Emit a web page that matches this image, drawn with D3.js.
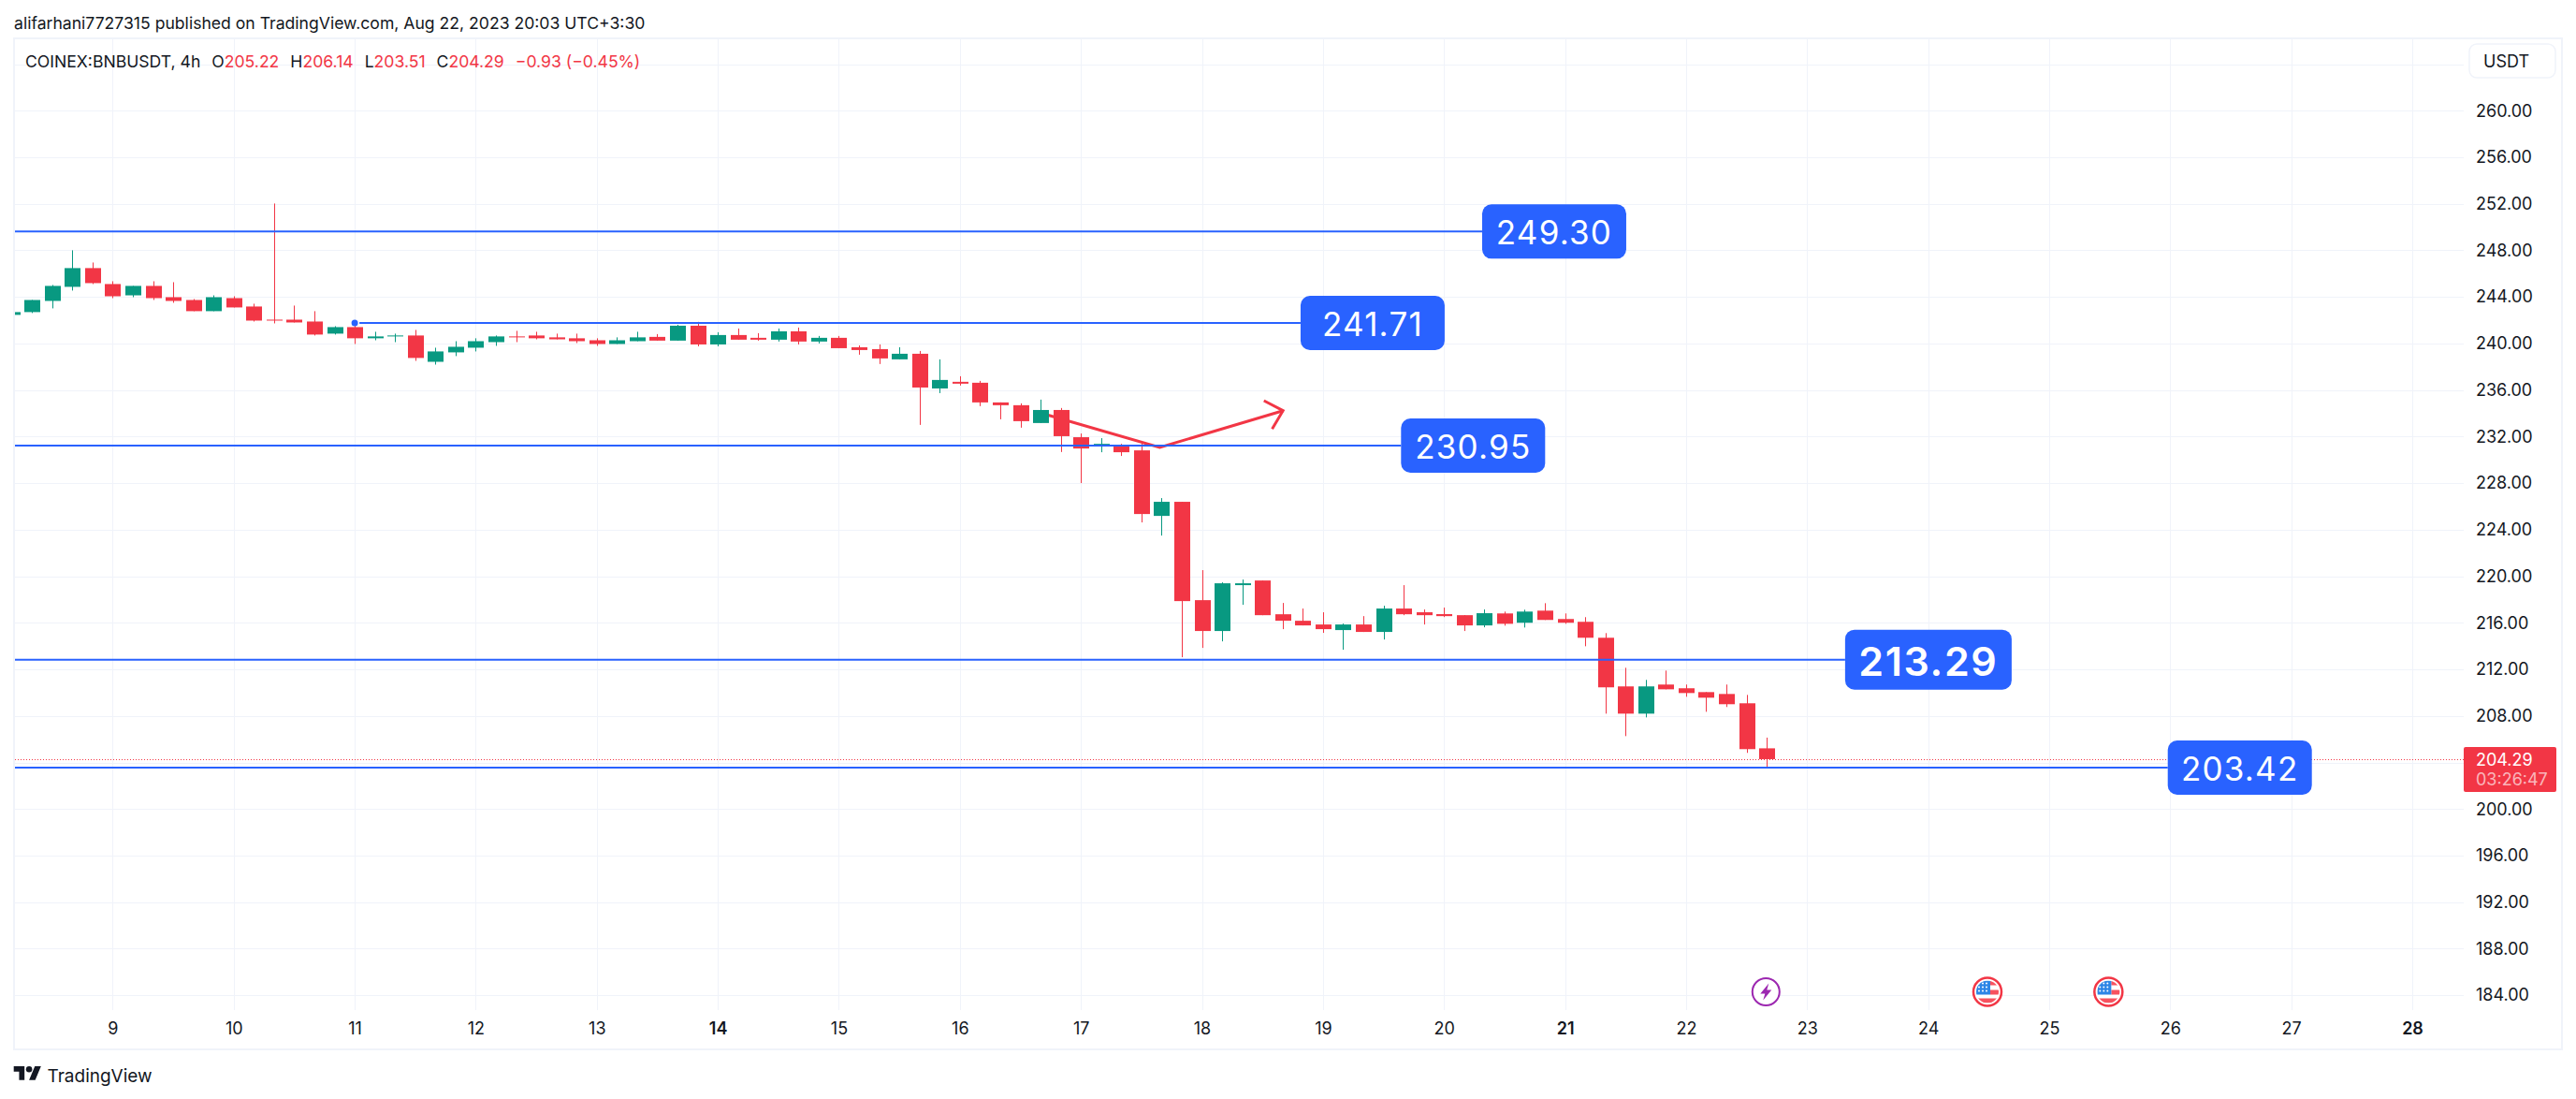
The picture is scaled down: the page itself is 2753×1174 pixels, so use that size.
<!DOCTYPE html>
<html>
<head>
<meta charset="utf-8">
<script src="https://cdn.jsdelivr.net/npm/d3@7"></script>
<style>
  html, body { margin: 0; padding: 0; background: #fff; }
  svg { display: block; font-family: Inter, "Noto Sans", sans-serif; }
</style>
</head>
<body>
<svg id="chart" width="2753" height="1174"></svg>
<script>
const opens = [242.46,242.70,243.66,244.87,246.48,245.11,244.14,244.95,243.98,243.74,242.78,243.90,243.18,242.05,242.05,241.89,240.85,241.41,240.45,240.61,240.69,238.43,239.24,239.64,240.12,240.61,240.69,240.53,240.45,240.28,239.96,240.20,240.57,240.25,241.53,239.92,240.73,240.49,240.33,241.05,240.17,240.49,239.68,239.52,238.64,239.12,236.14,236.71,236.63,234.94,234.70,233.17,234.29,231.95,231.22,231.30,230.82,225.19,226.40,217.95,215.30,219.24,219.64,216.74,216.18,215.86,215.38,215.86,215.22,217.23,216.91,216.75,216.66,215.78,216.81,216.01,217.05,216.33,216.09,214.72,210.54,208.20,210.70,210.38,210.05,209.89,209.09,205.22];
const highs = [242.70,243.74,245.03,248.01,246.96,245.35,244.95,245.35,245.27,243.82,244.14,244.06,243.42,252.03,243.26,242.78,241.49,241.97,241.01,240.85,241.17,239.64,240.20,240.45,240.69,241.09,241.01,240.85,240.85,240.45,240.53,241.01,240.81,241.61,241.86,240.97,241.29,240.89,241.29,241.37,240.65,240.65,239.84,239.92,239.68,239.36,238.64,237.19,236.79,234.94,234.86,235.18,234.46,232.27,231.87,231.38,231.46,226.72,226.40,220.53,219.48,219.72,219.64,217.71,217.23,216.91,215.94,216.58,217.47,219.24,217.15,217.31,216.66,217.15,216.97,217.13,217.69,216.81,216.49,215.12,212.14,211.10,211.90,210.70,210.05,210.70,209.81,206.14];
const lows = [242.46,242.62,243.02,244.55,245.11,243.90,243.98,243.74,243.50,242.78,242.78,243.10,241.89,241.73,241.81,240.69,240.77,239.96,240.28,240.12,238.51,238.19,238.92,239.32,239.80,240.12,240.36,240.36,240.04,239.80,239.96,240.20,240.25,240.25,239.76,239.76,240.33,240.25,240.17,239.92,240.01,239.60,239.04,238.24,238.64,233.01,235.74,236.39,234.62,233.49,232.77,233.17,230.68,228.01,230.66,230.34,224.63,223.50,213.05,213.85,214.41,217.55,216.66,215.46,215.78,215.14,213.69,215.22,214.57,216.66,215.86,216.50,215.30,215.62,215.76,215.60,216.25,215.92,213.99,208.20,206.27,207.88,210.29,209.65,208.36,208.77,204.83,203.51];
const closes = [242.70,243.74,244.95,246.48,245.19,244.06,244.95,243.90,243.66,242.78,243.98,243.10,241.97,241.97,241.81,240.77,241.41,240.45,240.61,240.69,238.76,239.32,239.72,240.20,240.61,240.53,240.45,240.36,240.20,239.96,240.28,240.53,240.25,241.53,239.92,240.73,240.33,240.33,241.05,240.17,240.49,239.60,239.44,238.72,239.12,236.22,236.87,236.55,234.94,234.70,233.33,234.29,232.04,230.98,231.38,230.66,225.35,226.40,217.87,215.30,219.40,219.40,216.66,216.18,215.78,215.46,215.86,215.22,217.23,216.74,216.66,216.58,215.78,216.83,215.92,216.97,216.25,216.01,214.72,210.46,208.20,210.54,210.29,209.97,209.57,209.01,205.15,204.29];

const firstBarDay = 8 + 1 / 6;
const barsPerDay = 6;

const priceTicks = [260,256,252,248,244,240,236,232,228,224,220,216,212,208,204,200,196,192,188,184];
const gridPrices = [264].concat(priceTicks);
const dayTicks = [9,10,11,12,13,14,15,16,17,18,19,20,21,22,23,24,25,26,27,28];
const boldDays = [14,21,28];

// line price differs a little from the typed label, both
const levelLabels = ["249.30","241.71","230.95","213.29","203.42"];
const levelPrices = [249.62,241.77,231.23,212.84,203.56];
const levelStartDays = [null,11,null,null,null];
const levelEndDays = [20.315,18.815,19.645,23.314,25.98];
const levelBold = [false,false,false,true,false];

const arrowDays = [16.717,17.651,18.670];
const arrowPrices = [233.88,231.07,234.23];
const arrowHeadDays = [18.512,18.670,18.58];
const arrowHeadPrices = [235.09,234.23,232.65];

const flagDays = [24.49,25.49];
const boltDays = [22.66];

const legendOhlc = [["O","205.22"],["H","206.14"],["L","203.51"],["C","204.29"]];
const lastPrice = 204.29;
const countdown = "03:26:47";

const margin = {left: 16, top: 42, right: 2633, bottom: 1079};
const red = "#f23645", green = "#089981", blue = "#2962ff", ink = "#131722", gridColor = "#f0f3fa";

const svg = d3.select("#chart");
const x = d3.scaleLinear().domain([9, 28]).range([120.4, 2578]);
const y = d3.scaleLinear().domain([260, 200]).range([118.3, 864.3]);
const barX = i => x(firstBarDay + i / barsPerDay);

svg.append("defs").append("clipPath").attr("id", "pane")
  .append("rect")
    .attr("x", margin.left)
    .attr("y", margin.top)
    .attr("width", margin.right - margin.left)
    .attr("height", margin.bottom - margin.top);

// frame
svg.append("rect")
  .attr("x", 15).attr("y", 41)
  .attr("width", 2723).attr("height", 1080)
  .attr("fill", "none")
  .attr("stroke", gridColor)
  .attr("stroke-width", 2);

// grid
svg.append("g").selectAll("line")
  .data(gridPrices)
  .join("line")
    .attr("x1", margin.left).attr("x2", margin.right)
    .attr("y1", d => Math.round(y(d)) + 0.5).attr("y2", d => Math.round(y(d)) + 0.5)
    .attr("stroke", gridColor);

svg.append("g").selectAll("line")
  .data(dayTicks)
  .join("line")
    .attr("x1", d => Math.round(x(d)) + 0.5).attr("x2", d => Math.round(x(d)) + 0.5)
    .attr("y1", margin.top).attr("y2", margin.bottom)
    .attr("stroke", gridColor);

// axes
const yAxis = svg.append("g")
  .attr("transform", `translate(${margin.right},0)`)
  .call(d3.axisRight(y).tickValues(priceTicks).tickSize(0).tickPadding(13).tickFormat(d3.format(".2f")));
yAxis.select(".domain").remove();
yAxis.selectAll("text")
  .attr("fill", ink)
  .style("font-size", "18px")
  .style("font-family", "Inter, sans-serif");

const xAxis = svg.append("g")
  .attr("transform", `translate(0,${margin.bottom})`)
  .call(d3.axisBottom(x).tickValues(dayTicks).tickSize(0).tickPadding(13).tickFormat(d3.format("d")));
xAxis.select(".domain").remove();
xAxis.selectAll("text")
  .attr("fill", ink)
  .style("font-size", "18px")
  .style("font-family", "Inter, sans-serif")
  .style("font-weight", d => boldDays.includes(d) ? 600 : 400);

const pane = svg.append("g").attr("clip-path", "url(#pane)");

// last price line
pane.append("line")
  .attr("x1", margin.left).attr("x2", margin.right)
  .attr("y1", Math.round(y(lastPrice)) + 0.5).attr("y2", Math.round(y(lastPrice)) + 0.5)
  .attr("stroke", red)
  .attr("stroke-width", 1)
  .attr("stroke-dasharray", "1 2");

// hand drawn arrow sits under the candles
const arrowLine = d3.line().x(d => x(d[0])).y(d => y(d[1]));
pane.append("path")
  .attr("d", arrowLine(d3.zip(arrowDays, arrowPrices)))
  .attr("fill", "none").attr("stroke", red).attr("stroke-width", 3);
pane.append("path")
  .attr("d", arrowLine(d3.zip(arrowHeadDays, arrowHeadPrices)))
  .attr("fill", "none").attr("stroke", red).attr("stroke-width", 3);

// candles
const candles = pane.append("g").selectAll("g")
  .data(opens.map((o, i) => i))
  .join("g")
    .attr("fill", i => closes[i] >= opens[i] ? green : red);

candles.append("rect")
  .attr("x", i => Math.round(barX(i)))
  .attr("width", 1)
  .attr("y", i => y(highs[i]))
  .attr("height", i => y(lows[i]) - y(highs[i]));

candles.append("rect")
  .attr("x", i => Math.round(barX(i)) - 8)
  .attr("width", 17)
  .attr("y", i => y(Math.max(opens[i], closes[i])))
  .attr("height", i => Math.max(1, Math.abs(y(opens[i]) - y(closes[i]))));

// horizontal levels
const levels = levelLabels.map((d, i) => i);
svg.append("g").selectAll("line")
  .data(levels)
  .join("line")
    .attr("x1", i => levelStartDays[i] === null ? margin.left : x(levelStartDays[i]) + 5)
    .attr("x2", i => x(levelEndDays[i]))
    .attr("y1", i => y(levelPrices[i]))
    .attr("y2", i => y(levelPrices[i]))
    .attr("stroke", blue)
    .attr("stroke-width", 2);

svg.append("circle")
  .attr("cx", x(levelStartDays[1]))
  .attr("cy", y(levelPrices[1]))
  .attr("r", 3.5)
  .attr("fill", blue);

const labels = svg.append("g").selectAll("g")
  .data(levels)
  .join("g")
    .attr("transform", i => `translate(${x(levelEndDays[i])},${y(levelPrices[i])})`);

labels.append("rect")
  .attr("y", i => levelBold[i] ? -32 : -29)
  .attr("width", i => levelBold[i] ? 178 : 154)
  .attr("height", i => levelBold[i] ? 64 : 58)
  .attr("rx", 10)
  .attr("fill", blue);

labels.append("text")
  .attr("x", i => levelBold[i] ? 89 : 77)
  .attr("y", 1)
  .attr("text-anchor", "middle")
  .attr("dominant-baseline", "central")
  .attr("fill", "#fff")
  .style("font-size", i => levelBold[i] ? "43px" : "35px")
  .style("font-weight", i => levelBold[i] ? 600 : 400)
  .style("letter-spacing", i => levelBold[i] ? "1.6px" : "1.2px")
  .text(i => levelLabels[i]);

// last price tag
svg.append("rect")
  .attr("x", margin.right)
  .attr("y", y(lastPrice) - 13)
  .attr("width", 99).attr("height", 48)
  .attr("rx", 2)
  .attr("fill", red);
svg.append("text")
  .attr("x", 2646).attr("y", y(lastPrice) + 1)
  .attr("dominant-baseline", "central")
  .attr("fill", "#fff")
  .style("font-size", "18px")
  .text(lastPrice.toFixed(2));
svg.append("text")
  .attr("x", 2646).attr("y", y(lastPrice) + 22)
  .attr("dominant-baseline", "central")
  .attr("fill", "#fff")
  .attr("fill-opacity", 0.65)
  .style("font-size", "18px")
  .text(countdown);

// event icons
const iconY = 1059.5;
const bolts = svg.append("g").selectAll("g")
  .data(boltDays)
  .join("g")
    .attr("transform", d => `translate(${x(d)},${iconY})`);
bolts.append("circle")
  .attr("r", 14.5)
  .attr("fill", "#fff").attr("stroke", "#9c27b0").attr("stroke-width", 2);
bolts.append("path")
  .attr("d", "M3,-9 L-6,2 L-1,2 L-3,9 L6,-2 L1,-2 Z")
  .attr("fill", "#9c27b0");

svg.select("defs").append("clipPath").attr("id", "flagClip")
  .append("circle").attr("r", 12);

const flags = svg.append("g").selectAll("g")
  .data(flagDays)
  .join("g")
    .attr("transform", d => `translate(${x(d)},${iconY})`);
flags.append("circle")
  .attr("r", 15)
  .attr("fill", "#fff").attr("stroke", red).attr("stroke-width", 2.5);
const flagInner = flags.append("g").attr("clip-path", "url(#flagClip)");
flagInner.append("rect").attr("x", 3).attr("y", -12).attr("width", 10).attr("height", 5).attr("fill", "#f7525f");
flagInner.append("rect").attr("x", 3).attr("y", -2).attr("width", 10).attr("height", 5).attr("fill", "#f7525f");
flagInner.append("rect").attr("x", -12).attr("y", 7).attr("width", 24).attr("height", 5).attr("fill", "#f7525f");
flagInner.append("rect").attr("x", -12).attr("y", -12).attr("width", 15).attr("height", 15).attr("fill", "#2e86e6");
flagInner.selectAll("circle.star")
  .data(d3.cross([-9, -5, -1], [-9, -5, -1]))
  .join("circle")
    .attr("class", "star")
    .attr("cx", d => d[0]).attr("cy", d => d[1])
    .attr("r", 1)
    .attr("fill", "#fff");

// USDT button
svg.append("rect")
  .attr("x", 2639).attr("y", 47)
  .attr("width", 92).attr("height", 36)
  .attr("rx", 8)
  .attr("fill", "#fff").attr("stroke", gridColor).attr("stroke-width", 1.5);
svg.append("text")
  .attr("x", 2654).attr("y", 65.5)
  .attr("dominant-baseline", "central")
  .attr("fill", ink)
  .style("font-size", "18px")
  .text("USDT");

// header and legend
svg.append("text")
  .attr("x", 15).attr("y", 24)
  .attr("dominant-baseline", "central")
  .attr("fill", ink)
  .style("font-size", "17.6px")
  .text("alifarhani7727315 published on TradingView.com, Aug 22, 2023 20:03 UTC+3:30");

const legend = svg.append("text")
  .attr("x", 27).attr("y", 65)
  .attr("dominant-baseline", "central")
  .attr("fill", ink)
  .style("font-size", "17.6px");
legend.append("tspan").text("COINEX:BNBUSDT, 4h");
legendOhlc.forEach(d => {
  legend.append("tspan").attr("dx", 12).text(d[0]);
  legend.append("tspan").attr("fill", red).text(d[1]);
});
legend.append("tspan").attr("dx", 12).attr("fill", red).text("\u22120.93 (\u22120.45%)");

// footer logo
svg.append("path")
  .attr("transform", "translate(14.7,1135.7) scale(0.82)")
  .attr("d", "M14 22H7V11H0V4h14v18zM28 22h-8l7.5-18h8L28 22z")
  .attr("fill", ink);
svg.append("circle")
  .attr("cx", 14.7 + 20 * 0.82).attr("cy", 1135.7 + 8 * 0.82).attr("r", 4 * 0.82)
  .attr("fill", ink);
svg.append("text")
  .attr("x", 50.5).attr("y", 1149)
  .attr("dominant-baseline", "central")
  .attr("fill", ink)
  .style("font-size", "19px")
  .text("TradingView");
</script>
</body>
</html>
